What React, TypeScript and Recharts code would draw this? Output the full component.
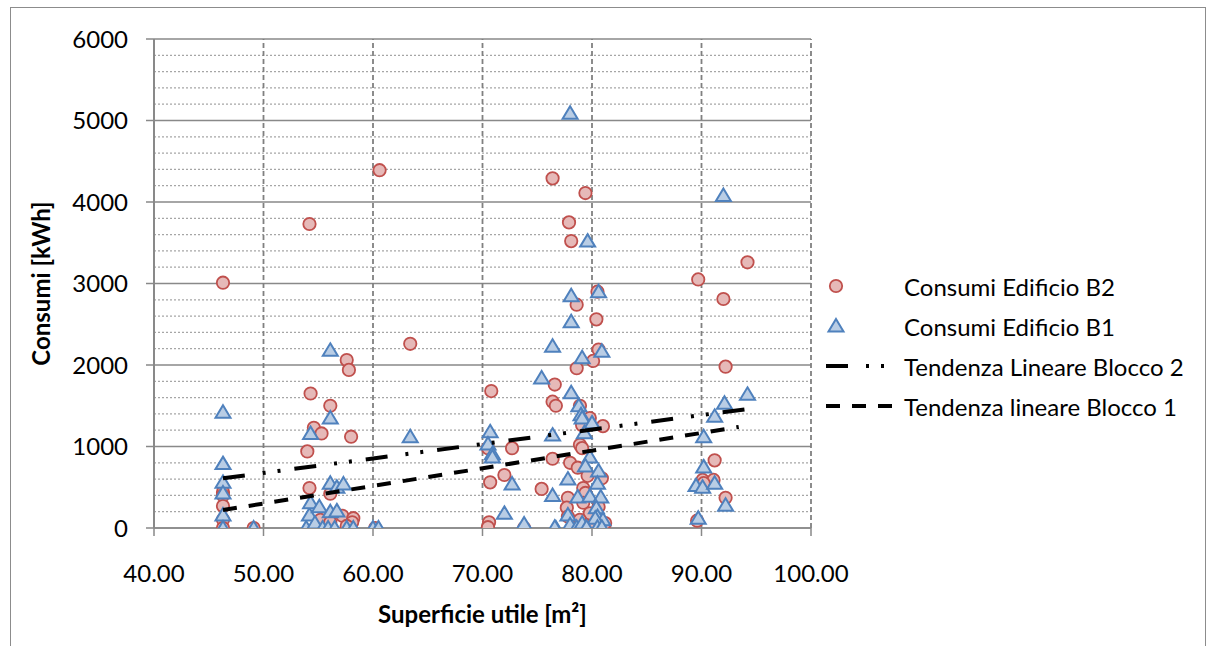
import {
  ScatterChart,
  Scatter,
  XAxis,
  YAxis,
  CartesianGrid,
  ReferenceLine,
} from "recharts";

// Superficie utile [m2] / Consumi [kWh]
const consumiB2: [number, number][] = [
  [46.3, 3010], [46.3, 440], [46.3, 400], [46.3, 270], [46.3, 100], [46.3, 0],
  [49.1, 0], [54.2, 3730], [54.3, 1650], [56.1, 1500], [54.6, 1230], [55.3, 1160],
  [58.0, 1120], [54.0, 940], [54.2, 490], [56.1, 420], [55.2, 100], [57.2, 150],
  [58.2, 120], [58.1, 70], [57.6, 25], [56.1, 70], [57.6, 2060], [57.8, 1940],
  [60.6, 4390], [60.2, 0], [63.4, 2260], [70.8, 1680], [70.7, 560], [70.6, 70],
  [70.5, 10], [70.5, 980], [72.0, 650], [72.7, 980], [73.8, 0], [75.4, 480],
  [76.4, 4290], [76.6, 1760], [76.4, 1550], [76.7, 1500], [76.4, 850], [77.9, 3750],
  [78.1, 3520], [78.6, 2740], [78.6, 1960], [79.4, 4110], [80.4, 2560], [80.5, 2900],
  [80.6, 2190], [80.1, 2050], [78.9, 1500], [79.8, 1350], [79.1, 1260], [81.0, 1250],
  [78.9, 1020], [79.1, 980], [78.0, 800], [78.7, 740], [79.6, 640], [80.9, 610],
  [79.2, 490], [79.4, 430], [77.8, 370], [77.7, 250], [79.2, 310], [79.8, 180],
  [80.6, 260], [77.8, 140], [78.4, 70], [81.2, 60], [78.9, 100], [79.5, 30],
  [80.2, 40], [89.7, 3050], [92.0, 2810], [94.2, 3260], [92.2, 1980], [91.2, 830],
  [90.1, 590], [91.1, 590], [90.2, 550], [92.2, 370], [89.6, 90],
];

const consumiB1: [number, number][] = [
  [46.3, 1420], [46.3, 790], [46.3, 560], [46.3, 430], [46.3, 160], [46.3, 0],
  [49.1, 0], [53.9, 0], [54.2, 160], [54.3, 310], [54.3, 1160], [54.7, 60],
  [55.1, 260], [55.4, 0], [55.9, 0], [56.1, 200], [56.1, 550], [56.1, 1350],
  [56.1, 2180], [56.5, 0], [56.7, 500], [56.7, 210], [57.3, 540], [57.6, 0],
  [58.2, 0], [60.0, 0], [60.5, 0], [63.4, 1120], [70.7, 1180], [70.5, 1030],
  [70.9, 910], [70.9, 870], [72.7, 540], [72.0, 180], [73.8, 50], [76.4, 1140],
  [76.4, 400], [76.7, 0], [75.4, 1840], [76.4, 2230], [78.1, 2850], [78.1, 2530],
  [79.6, 3520], [80.6, 2900], [80.9, 2170], [79.1, 2090], [78.1, 1660], [78.0, 5090],
  [78.8, 1500], [79.0, 1390], [79.1, 1350], [80.0, 1290], [79.3, 1170], [79.8, 870],
  [79.4, 760], [80.6, 700], [77.8, 600], [80.5, 550], [78.7, 380], [79.8, 390],
  [80.8, 380], [80.4, 250], [77.8, 160], [80.5, 140], [81.0, 100], [80.3, 120],
  [76.6, 10], [78.0, 40], [78.6, 10], [79.1, 60], [79.5, 10], [80.5, 10],
  [80.9, 10], [92.0, 4080], [94.2, 1640], [92.1, 1530], [91.2, 1370], [90.2, 1120],
  [90.2, 750], [89.5, 520], [90.1, 500], [91.2, 550], [92.2, 280], [89.7, 120],
];

const trendBlocco2: [number, number][] = [[46.3, 610], [94.2, 1460]];
const trendBlocco1: [number, number][] = [[46.3, 220], [93.4, 1240]];

const xTicks = [40, 50, 60, 70, 80, 90, 100];
const xGrid = [50, 60, 70, 80, 90, 100];
const yTicks = [0, 1000, 2000, 3000, 4000, 5000, 6000];
const yMinor = [
  200, 400, 600, 800, 1200, 1400, 1600, 1800, 2200, 2400, 2600, 2800,
  3200, 3400, 3600, 3800, 4200, 4400, 4600, 4800, 5200, 5400, 5600, 5800,
];

const FONT = "Lato, 'Open Sans', sans-serif";
const FS = 24;
const GRID = "#898989";
const DASH2 = "22 18 3 12 3 14";
const DASH1 = "14 12";

const toPts = (arr: [number, number][]) => arr.map(([x, y]) => ({ x, y }));

const Dot = (p: any) => (
  <circle cx={p.cx} cy={p.cy} r={6.2} fill="#E6B9B8" stroke="#C0504D" strokeWidth={1.8} />
);

const Tri = (p: any) => {
  const { cx, cy } = p;
  return (
    <path
      d={`M${cx},${cy - 7} L${cx + 7.5},${cy + 5.5} L${cx - 7.5},${cy + 5.5} Z`}
      fill="#B9CDE5"
      stroke="#4F81BD"
      strokeWidth={2}
    />
  );
};

const NoDot = () => <g />;

const legendItems = [
  { name: "Consumi Edificio B2", kind: "dot" },
  { name: "Consumi Edificio B1", kind: "tri" },
  { name: "Tendenza Lineare Blocco 2", kind: "dash2" },
  { name: "Tendenza lineare Blocco 1", kind: "dash1" },
];

const ChartLegend = () => (
  <div
    style={{
      position: "absolute",
      left: 822,
      top: 266,
      fontFamily: FONT,
      fontSize: FS,
      color: "#000",
    }}
  >
    {legendItems.map((it) => (
      <div key={it.name} style={{ display: "flex", alignItems: "center", height: 40 }}>
        <svg width={82} height={40} style={{ flex: "none" }}>
          {it.kind === "dot" && <Dot cx={14} cy={20} />}
          {it.kind === "tri" && <Tri cx={14} cy={20} />}
          {it.kind === "dash2" && (
            <line x1={4} y1={20} x2={73} y2={20} stroke="#000" strokeWidth={4} strokeDasharray={DASH2} />
          )}
          {it.kind === "dash1" && (
            <line x1={4} y1={20} x2={73} y2={20} stroke="#000" strokeWidth={4} strokeDasharray={DASH1} />
          )}
        </svg>
        <span style={{ whiteSpace: "nowrap" }}>{it.name}</span>
      </div>
    ))}
  </div>
);

const YTitle = (props: any) => {
  const { viewBox } = props;
  const cy = viewBox.y + viewBox.height / 2;
  return (
    <text
      x={40}
      y={cy}
      transform={`rotate(-90, 40, ${cy})`}
      textAnchor="middle"
      dominantBaseline="central"
      fontFamily={FONT}
      fontSize={FS}
      fontWeight="bold"
      fill="#000"
    >
      Consumi [kWh]
    </text>
  );
};

const XTitle = (props: any) => {
  const { viewBox } = props;
  return (
    <text
      x={viewBox.x + viewBox.width / 2}
      y={623}
      textAnchor="middle"
      fontFamily={FONT}
      fontSize={FS}
      fontWeight="bold"
      fill="#000"
    >
      Superficie utile [m²]
    </text>
  );
};

export default function App() {
  return (
    <div style={{ position: "absolute", left: 0, top: 0, width: 1215, height: 646, background: "#fff", overflow: "hidden" }}>
      <div
        style={{
          position: "absolute",
          left: 10,
          top: 7,
          width: 1196,
          height: 660,
          border: "1.5px solid #8c8c8c",
          boxSizing: "border-box",
        }}
      />
      <div style={{ position: "absolute", left: 0, top: 0 }}>
        <ScatterChart width={1215} height={646} margin={{ top: 39, right: 404, bottom: 58, left: 0 }}>
          <CartesianGrid vertical={false} stroke={GRID} strokeWidth={1.5} />
          {yMinor.map((v) => (
            <ReferenceLine key={`m${v}`} y={v} stroke="#a6a6a6" strokeWidth={1.3} strokeDasharray="2 2" />
          ))}
          {xGrid.map((v) => (
            <ReferenceLine key={`v${v}`} x={v} stroke="#808080" strokeWidth={1.8} strokeDasharray="5 3" />
          ))}
          <XAxis
            type="number"
            dataKey="x"
            domain={[40, 100]}
            ticks={xTicks}
            allowDataOverflow
            tickFormatter={(v: number) => v.toFixed(2)}
            axisLine={{ stroke: GRID, strokeWidth: 1.5 }}
            tickLine={{ stroke: GRID, strokeWidth: 1.5 }}
            tickSize={8}
            tickMargin={29}
            height={60}
            tick={{ fontFamily: FONT, fontSize: FS, fill: "#000" }}
            label={<XTitle />}
          />
          <YAxis
            type="number"
            dataKey="y"
            domain={[0, 6000]}
            ticks={yTicks}
            allowDataOverflow
            axisLine={{ stroke: GRID, strokeWidth: 2 }}
            tickLine={{ stroke: GRID, strokeWidth: 1.5 }}
            tickSize={8}
            tickMargin={18}
            width={154}
            tick={{ fontFamily: FONT, fontSize: FS, fill: "#000" }}
            label={<YTitle />}
          />
          <Scatter name="Consumi Edificio B2" data={toPts(consumiB2)} shape={<Dot />} isAnimationActive={false} />
          <Scatter name="Consumi Edificio B1" data={toPts(consumiB1)} shape={<Tri />} isAnimationActive={false} />
          <Scatter
            name="Tendenza Lineare Blocco 2"
            data={toPts(trendBlocco2)}
            line={{ stroke: "#000", strokeWidth: 4, strokeDasharray: DASH2 }}
            shape={<NoDot />}
            isAnimationActive={false}
          />
          <Scatter
            name="Tendenza lineare Blocco 1"
            data={toPts(trendBlocco1)}
            line={{ stroke: "#000", strokeWidth: 4, strokeDasharray: DASH1 }}
            shape={<NoDot />}
            isAnimationActive={false}
          />
        </ScatterChart>
      </div>
      <ChartLegend />
    </div>
  );
}
